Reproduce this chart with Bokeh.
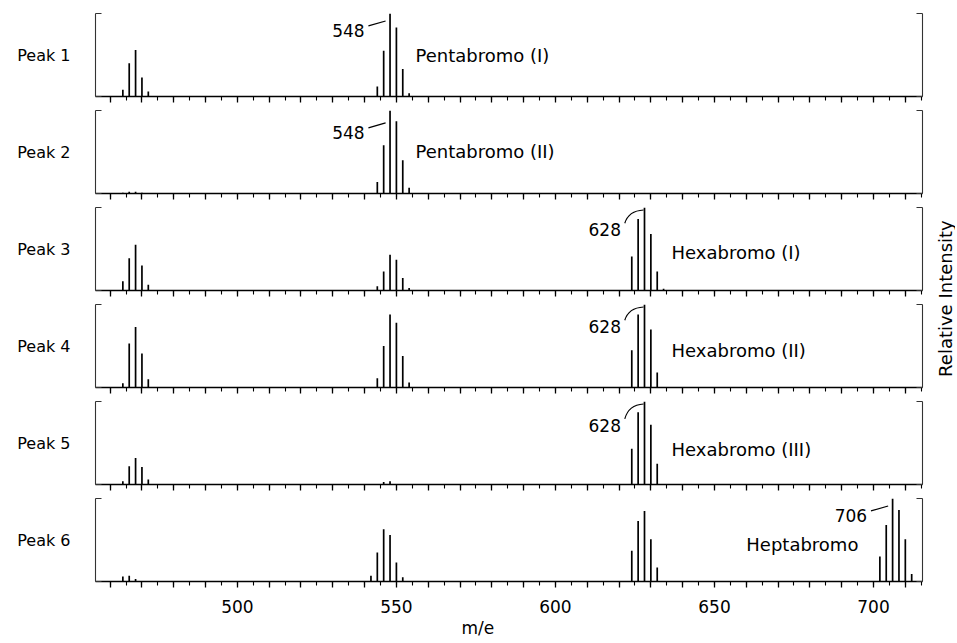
import math
from bokeh.plotting import figure
from bokeh.layouts import column, row
from bokeh.models import Range1d, FixedTicker, LinearAxis, ColumnDataSource, Title
from bokeh.embed import file_html
from bokeh.resources import INLINE
from bokeh.core.properties import value

# ---------------- data ----------------
panel_names = ["Peak 1", "Peak 2", "Peak 3", "Peak 4", "Peak 5", "Peak 6"]

p1_mz = [464, 466, 468, 470, 472, 544, 546, 548, 550, 552, 554]
p1_int = [8, 40, 56, 23, 6, 12, 55, 100, 83, 33, 4]

p2_mz = [464, 466, 468, 470, 544, 546, 548, 550, 552, 554]
p2_int = [1, 2, 2, 1, 14, 58, 100, 87, 40, 7]

p3_mz = [464, 466, 468, 470, 472, 544, 546, 548, 550, 552, 554, 624, 626, 628, 630, 632, 634]
p3_int = [11, 39, 55, 30, 7, 5, 23, 43, 37, 15, 3, 41, 86, 100, 68, 23, 2]

p4_mz = [464, 466, 468, 470, 472, 544, 546, 548, 550, 552, 554, 624, 626, 628, 630, 632]
p4_int = [5, 53, 73, 41, 10, 11, 50, 88, 78, 38, 6, 45, 88, 100, 70, 18]

p5_mz = [464, 466, 468, 470, 472, 546, 548, 624, 626, 628, 630, 632]
p5_int = [4, 22, 32, 21, 6, 3, 4, 43, 87, 100, 72, 25]

p6_mz = [464, 466, 468, 542, 544, 546, 548, 550, 552, 624, 626, 628, 630, 632, 702, 704, 706, 708, 710, 712]
p6_int = [6, 7, 3, 7, 35, 63, 56, 23, 5, 37, 73, 85, 51, 17, 30, 68, 100, 86, 51, 9]

panel_mz = [p1_mz, p2_mz, p3_mz, p4_mz, p5_mz, p6_mz]
panel_int = [p1_int, p2_int, p3_int, p4_int, p5_int, p6_int]

compound_names = ["Pentabromo (I)", "Pentabromo (II)", "Hexabromo (I)",
                  "Hexabromo (II)", "Hexabromo (III)", "Heptabromo"]
labelled_peak = [548, 548, 628, 628, 628, 706]
labelled_text = ["548", "548", "628", "628", "628", "706"]

major_ticks = list(range(460, 711, 10))
minor_ticks = list(range(455, 716, 5))
labelled_ticks = [500, 550, 600, 650, 700]

# ---------------- layout / style ----------------
XMIN, XMAX = 455.4, 715.4
FRAME_W, FRAME_H = 827, 83
LW = 80                 # width of the left label strip
RW = 31                 # width of the right label strip
LEFT, GAP, TOP, BOTTOM = 15, 14, 13, 60
FONT = "DejaVu Sans"

name_x = [556, 556, 636.5, 636.5, 636.5, 660]
name_y = [49, 51, 46, 45, 42, 44]
num_y = [79, 73, 73, 73, 71, 79]
curved = [False, False, True, True, True, False]

fig_heights = [TOP + FRAME_H + GAP] + [FRAME_H + GAP] * 4 + [FRAME_H + BOTTOM]
H = sum(fig_heights)

xr = Range1d(XMIN, XMAX)
figs = []
for i in range(6):
    last = (i == 5)
    p = figure(frame_width=FRAME_W, frame_height=FRAME_H, x_range=xr,
               y_range=Range1d(0, 100), output_backend="svg",
               toolbar_location=None,
               min_border_left=LEFT, min_border_right=2,
               min_border_top=TOP if i == 0 else 0,
               min_border_bottom=BOTTOM if last else GAP)
    p.outline_line_color = None
    p.grid.visible = False

    src = ColumnDataSource(dict(mz=panel_mz[i], inten=panel_int[i]))
    p.segment(x0="mz", y0=0, x1="mz", y1="inten", source=src,
              line_color="black", line_width=1.7)

    # x axis: ticks every 10 (long) and 5 (short), labels hidden
    xa = p.xaxis[0]
    xa.ticker = FixedTicker(ticks=major_ticks, minor_ticks=minor_ticks)
    xa.axis_line_color = "black"
    xa.axis_line_width = 1.4
    xa.major_tick_line_color = "black"
    xa.minor_tick_line_color = "black"
    xa.major_tick_line_width = 1.3
    xa.minor_tick_line_width = 1.1
    xa.major_tick_in = 0
    xa.major_tick_out = 6
    xa.minor_tick_in = 0
    xa.minor_tick_out = 4
    xa.major_label_text_color = None
    xa.major_label_text_font_size = "1px"
    xa.major_label_standoff = 0

    if last:
        xb = LinearAxis(ticker=FixedTicker(ticks=labelled_ticks))
        xb.axis_line_color = None
        xb.major_tick_line_color = None
        xb.minor_tick_line_color = None
        xb.major_tick_out = 0
        xb.major_tick_in = 0
        xb.major_label_text_font = FONT
        xb.major_label_text_font_size = "17px"
        xb.major_label_text_color = "black"
        xb.major_label_standoff = 12
        p.add_layout(xb, "below")
        p.add_layout(Title(text="m/e", align="left", offset=366, standoff=1,
                           text_font=FONT, text_font_size="17px",
                           text_font_style="normal", text_color="black"), "below")

    # bracket-like y axes ("[" and "]"), serifs as inward minor ticks
    for side in ("left", "right"):
        if side == "left":
            ya = p.yaxis[0]
        else:
            ya = LinearAxis()
            p.add_layout(ya, "right")
        ya.ticker = FixedTicker(ticks=[], minor_ticks=[0, 100])
        ya.minor_tick_in = 6
        ya.minor_tick_out = 0
        ya.major_tick_in = 0
        ya.major_tick_out = 0
        ya.major_label_text_color = None
        ya.major_label_standoff = 0
        ya.axis_line_color = "#333333"
        ya.axis_line_width = 1.1
        ya.minor_tick_line_color = "#333333"
        ya.minor_tick_line_width = 1.1

    # compound name
    p.text(x=[name_x[i]], y=[name_y[i]], text=[compound_names[i]],
           text_align="left", text_baseline="middle",
           text_font=value(FONT), text_font_size=value("18px"), text_color="black")

    # labelled peak number + leader
    m = labelled_peak[i]
    p.text(x=[m - (7.4 if curved[i] else 8.0)], y=[num_y[i]], text=[labelled_text[i]],
           text_align="right", text_baseline="middle",
           text_font=value(FONT), text_font_size=value("17px"), text_color="black")
    if curved[i]:
        p.quadratic(x0=[m - 6.2], y0=[num_y[i] + 8], x1=[m - 0.3], y1=[97],
                    cx=[m - 5.0], cy=[96], line_color="black", line_width=1.2)
    else:
        p.segment(x0=[m - 6.8], y0=[num_y[i] + 6], x1=[m - 1.4], y1=[num_y[i] + 12],
                  line_color="black", line_width=1.2)
    figs.append(p)

# left strip with the "Peak n" labels, aligned on each panel's centre
centres = []
top = 0
for i, h in enumerate(fig_heights):
    ftop = top + (TOP if i == 0 else 0)
    centres.append(H - (ftop + FRAME_H / 2))
    top += h

lf = figure(width=LW, height=H, x_range=Range1d(0, LW), y_range=Range1d(0, H),
            output_backend="svg", toolbar_location=None, min_border=0)
lf.axis.visible = False
lf.grid.visible = False
lf.outline_line_color = None
lf.text(x=[LW - 10] * 6, y=centres, text=panel_names, text_align="right",
        text_baseline="middle", text_font=value(FONT), text_font_size=value("16px"),
        text_color="black")

# right strip with the rotated "Relative Intensity" label
rf = figure(width=RW, height=H, x_range=Range1d(0, 1), y_range=Range1d(0, 1),
            output_backend="svg", toolbar_location=None, min_border=0)
rf.axis.visible = False
rf.grid.visible = False
rf.outline_line_color = None
rf.text(x=[0.68], y=[0.535], text=["Relative Intensity"], angle=math.pi / 2,
        text_align="center", text_baseline="middle",
        text_font=value(FONT), text_font_size=value("18px"), text_color="black")

layout = row(lf, column(*figs), rf)
open("out.html", "w").write(file_html(layout, INLINE))
